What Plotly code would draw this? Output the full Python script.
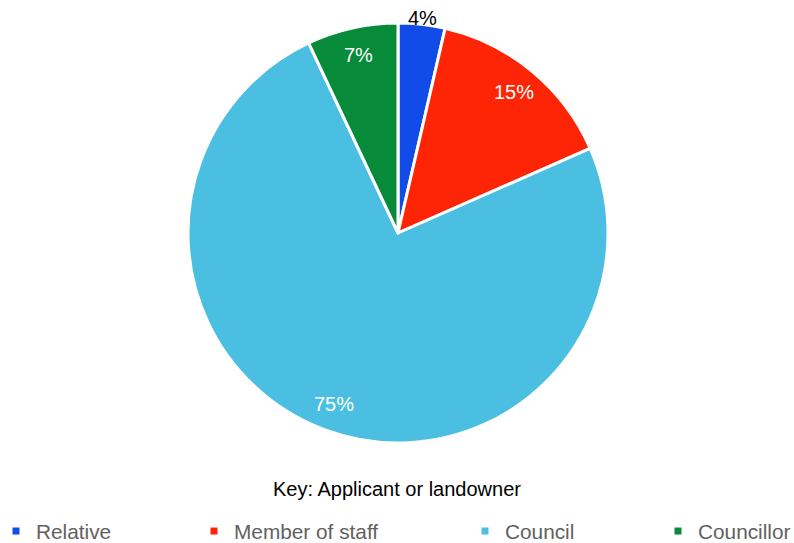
import math
import plotly.graph_objects as go

# Share of cases by relationship of applicant or landowner
labels = ["Relative", "Member of staff", "Council", "Councillor"]
values = [3.6, 14.8, 74.6, 7.0]
colors = ["#124ce8", "#fe2406", "#4bbfe1", "#078b3a"]
label_colors = ["#000000", "#ffffff", "#ffffff", "#ffffff"]

W, H = 794, 543
cx, cy, R = 398, 233, 210  # pie centre and radius in pixels
FONT = "Liberation Sans, Arial"

fig = go.Figure()
fig.add_trace(go.Pie(
    labels=labels, values=values, sort=False, direction="clockwise",
    rotation=0, marker=dict(colors=colors, line=dict(color="white", width=3)),
    textinfo="none", hoverinfo="label+percent", showlegend=False,
    domain=dict(x=[(cx - R) / W, (cx + R) / W], y=[1 - (cy + R) / H, 1 - (cy - R) / H]),
))

# Percentage labels placed along each slice's mid-angle
total = sum(values)
cum = 0.0
for v, tc in zip(values, label_colors):
    frac = v / total
    mid = cum + frac / 2
    cum += frac
    theta = 2 * math.pi * mid
    r = R * (1.03 if frac < 0.05 else 0.87)
    px = cx + r * math.sin(theta)
    py = cy - r * math.cos(theta)
    fig.add_annotation(
        x=px / W, y=1 - py / H, xref="paper", yref="paper",
        text=f"{frac * 100:.0f}%", showarrow=False,
        font=dict(family=FONT, size=20, color=tc),
        xanchor="center", yanchor="middle",
    )

# Legend entries, one legend per category spread across the bottom
text_starts = [36, 234, 505, 698]
legend_names = ["legend", "legend2", "legend3", "legend4"]
for lab, col, lname in zip(labels, colors, legend_names):
    fig.add_trace(go.Scatter(
        x=[None], y=[None], mode="markers", name=lab, legend=lname,
        marker=dict(symbol="square", size=7, color=col),
    ))

legend_style = dict(
    orientation="h", yanchor="bottom", y=-9 / H, xanchor="left",
    font=dict(family=FONT, size=20.8, color="#616161"),
    bgcolor="rgba(0,0,0,0)", borderwidth=0, itemclick=False,
    indentation=-8,
)
layout_legends = {}
for lname, ts in zip(legend_names, text_starts):
    layout_legends[lname] = dict(legend_style, x=(ts - 32) / W)

fig.update_layout(
    width=W, height=H, margin=dict(l=0, r=0, t=0, b=0, autoexpand=False),
    paper_bgcolor="white", plot_bgcolor="white",
    xaxis=dict(visible=False), yaxis=dict(visible=False),
    title=dict(text="Key: Applicant or landowner", x=0.5, xanchor="center",
               y=1 - 489 / H, yanchor="middle",
               font=dict(family=FONT, size=20, color="#000000")),
    **layout_legends,
)

fig.write_html("out.html")
